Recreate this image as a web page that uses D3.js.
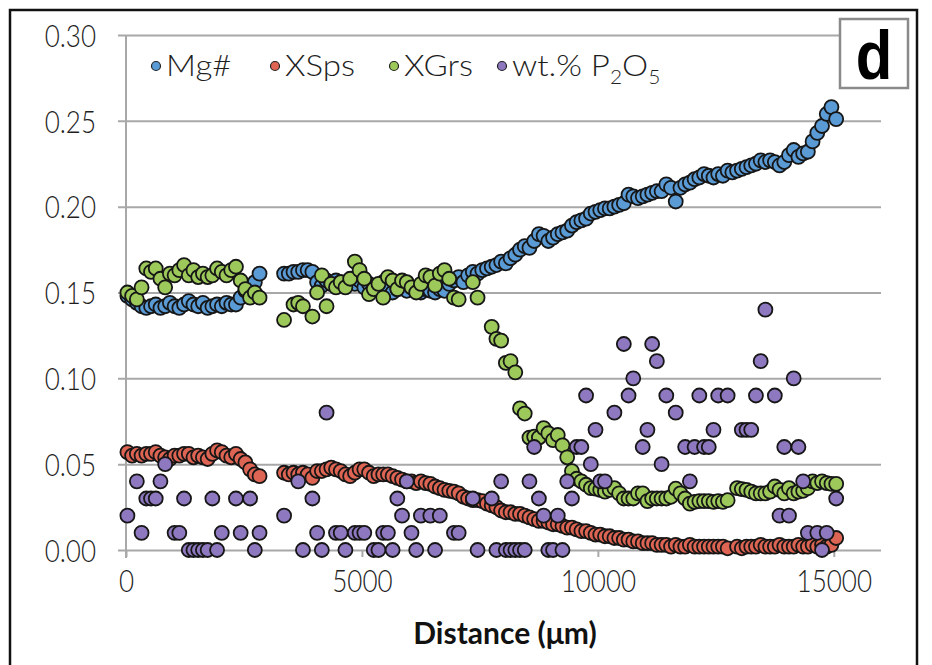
<!DOCTYPE html>
<html><head><meta charset="utf-8">
<script src="https://cdn.jsdelivr.net/npm/d3@7/dist/d3.min.js"></script>
<style>
html,body{margin:0;padding:0;background:#fff;}
svg{display:block;}
</style></head>
<body><svg id="c" width="932" height="665"></svg>
<script>
// distances (µm) of the analysis points
const distance = [30,130,230,330,430,530,630,730,830,930,1030,1130,1230,1330,1430,1530,1630,1730,1830,1930,2030,2130,2230,2330,2430,2530,2630,2730,2830,
3350,3450,3550,3650,3750,3850,3950,4050,4150,4250,4350,4450,4550,4650,4750,4850,4950,5050,5150,5250,5350,5450,5550,5650,5750,5850,5950,6050,6150,6250,6350,6450,6550,6650,6750,6850,6950,7050,7150,7250,7350,7450,7550,7650,7750,7850,7950,8050,8150,8250,8350,8450,8550,8650,8750,8850,8950,9050,9150,9250,9350,9450,9550,9650,9750,9850,9950,10050,10150,10250,10350,10450,10550,10650,10750,10850,10950,11050,11150,11250,11350,11450,11550,11650,11750,11850,11950,12050,12150,12250,12350,12450,12550,12650,12750,12850,12950,13050,13150,13250,13350,13450,13550,13650,13750,13850,13950,14050,14150,14250,14350,14450,14550,14650,14750,14850,14950,15050];

const mgNum = [0.148,0.146,0.144,0.142,0.141,0.142,0.143,0.141,0.142,0.144,0.142,0.141,0.143,0.145,0.143,0.142,0.144,0.141,0.142,0.143,0.142,0.144,0.143,0.143,0.147,0.151,0.153,0.156,0.161,
0.161,0.161,0.162,0.162,0.163,0.163,0.162,0.156,0.154,0.157,
0.155,0.157,0.156,0.154,0.156,0.155,0.157,0.153,0.155,0.152,
0.154,0.156,0.153,0.150,0.152,0.154,0.151,0.153,0.152,0.150,
0.152,0.151,0.150,0.152,0.151,0.155,0.157,0.159,0.156,0.160,
0.162,0.161,0.163,0.164,0.165,0.166,0.168,0.167,0.170,0.172,
0.175,0.177,0.176,0.180,0.184,0.183,0.180,0.182,0.184,0.185,
0.186,0.189,0.191,0.192,0.193,0.196,0.197,0.198,0.199,0.199,
0.200,0.201,0.202,0.207,0.206,0.205,0.206,0.207,0.208,0.209,
0.209,0.213,0.211,0.203,0.211,0.213,0.214,0.216,0.217,0.219,
0.218,0.217,0.219,0.218,0.221,0.220,0.221,0.222,0.223,0.224,
0.225,0.227,0.226,0.227,0.226,0.224,0.226,0.230,0.233,0.229,
0.231,0.232,0.238,0.243,0.247,0.254,0.258,0.251];

const xSps = [0.057,0.055,0.056,0.055,0.056,0.056,0.057,0.055,0.054,0.053,0.055,0.055,0.056,0.056,0.054,0.055,0.054,0.053,0.056,0.058,0.057,0.055,0.054,0.056,0.053,0.051,0.047,0.044,0.043,
0.045,0.044,0.045,0.044,0.045,0.044,0.042,0.046,0.046,0.047,
0.048,0.047,0.046,0.044,0.043,0.045,0.047,0.047,0.045,0.043,
0.044,0.044,0.044,0.043,0.042,0.041,0.040,0.040,0.039,0.040,
0.039,0.0385,0.037,0.036,0.035,0.0345,0.034,0.033,0.031,0.030,
0.029,0.029,0.0285,0.027,0.026,0.025,0.023,0.022,0.022,0.021,
0.021,0.020,0.019,0.018,0.017,0.017,0.016,0.015,0.015,0.014,
0.013,0.013,0.012,0.011,0.011,0.010,0.009,0.009,0.008,0.008,
0.007,0.007,0.006,0.006,0.005,0.005,0.004,0.004,0.004,0.003,
0.003,0.003,0.002,0.003,0.002,0.002,0.003,0.002,0.002,0.002,
0.002,0.002,0.002,0.002,0.001,null,0.002,0.001,0.002,0.002,
0.002,0.003,0.002,0.002,0.002,0.003,0.002,0.002,0.002,0.003,
0.002,0.002,0.003,0.002,0.003,0.002,0.003,0.007];

const xGrs = [0.150,0.148,0.146,0.153,0.164,0.162,0.164,0.158,0.153,0.161,0.160,0.163,0.166,0.160,0.163,0.159,0.161,0.159,0.160,0.164,0.162,0.160,0.163,0.165,0.157,0.152,0.147,0.150,0.147,
0.134,null,0.143,0.144,0.142,null,0.136,0.150,0.160,0.142,
0.155,0.153,0.156,0.153,0.158,0.168,0.163,0.158,0.149,0.152,
0.155,0.147,0.159,0.157,0.152,0.157,0.156,0.153,0.150,0.155,
0.160,0.159,0.154,0.161,0.163,0.158,0.147,0.146,null,null,
0.156,0.147,null,null,0.130,0.123,0.122,0.109,0.110,0.1035,
0.0825,0.0795,0.0655,0.066,0.0655,0.071,0.068,0.064,0.067,0.061,
0.054,0.046,0.0415,0.040,0.038,0.036,0.0357,0.035,0.034,0.035,
0.036,0.033,0.030,0.030,0.030,0.033,0.033,0.0285,0.030,0.030,
0.030,0.030,0.031,0.0357,0.033,0.030,0.027,0.028,0.0285,0.0285,
0.0285,0.028,0.0285,0.028,0.029,null,0.036,0.0355,0.035,0.034,
0.033,0.033,0.033,0.034,0.037,0.035,0.033,0.036,0.033,0.034,
0.0345,0.036,0.040,0.039,0.040,0.039,0.0385,0.0385];

const p2o5 = [0.02,null,0.04,0.01,0.03,0.03,0.03,0.04,0.05,null,0.01,0.01,0.03,0.00,0.00,0.00,0.00,0.00,0.03,0.00,0.01,null,null,0.03,0.01,null,0.03,0.00,0.01,
0.02,null,null,0.04,0.00,null,0.03,0.01,0.00,0.08,
null,0.01,0.01,0.00,null,0.01,0.01,0.01,null,0.00,
0.00,0.01,0.01,0.00,0.03,0.02,0.04,0.01,0.00,0.02,
null,0.02,0.00,0.02,null,null,0.01,0.01,null,null,
0.03,0.00,null,null,0.03,0.00,0.04,0.00,0.00,0.00,
0.00,0.00,0.04,0.06,0.03,0.02,0.00,0.00,0.02,0.00,
0.04,0.03,0.06,0.06,0.09,0.05,0.07,0.04,0.04,null,
0.08,null,0.12,0.09,0.10,null,0.06,0.07,0.12,0.11,
0.05,0.09,null,0.08,null,0.06,0.04,0.06,0.09,0.06,
0.06,0.07,0.09,null,0.09,null,null,0.07,0.07,0.07,
0.09,0.11,0.14,null,0.09,0.02,0.06,0.02,0.10,0.06,
0.04,0.01,null,0.01,0.00,0.01,null,0.03];

const seriesNames = ["Mg#","XSps","XGrs","wt.% P2O5"];
const seriesColors = ["#5b9bd5","#de6553","#9dc95b","#8e78bf"];
const seriesValues = [mgNum, xSps, xGrs, p2o5];
const xTicks = [0,5000,10000,15000];
const yTicks = [0,0.05,0.10,0.15,0.20,0.25,0.30];

const svg = d3.select("#c");
const W = 932, H = 665;
svg.append("rect").attr("width",W).attr("height",H).attr("fill","#fff");

// outer frame
svg.append("rect").attr("x",10).attr("y",10).attr("width",907).attr("height",700)
  .attr("fill","none").attr("stroke","#111").attr("stroke-width",2.5);

const x = d3.scaleLinear().domain([0,16000]).range([126,881]);
const y = d3.scaleLinear().domain([0,0.30]).range([550,35]);

const tickFont = "Lato,'Open Sans',sans-serif";
const SX = 0.84; // horizontal condensing of tick label glyphs
const gridColor = "#a8a8a8";

// horizontal gridlines via y axis
const yAxis = d3.axisLeft(y).tickValues(yTicks).tickFormat(d3.format(".2f"))
  .tickSize(0).tickSizeOuter(0).tickPadding(0);
const gy = svg.append("g").attr("transform",`translate(${x.range()[0]},0)`).call(yAxis);
gy.select(".domain").remove();
gy.selectAll(".tick line").attr("stroke",gridColor).attr("stroke-width",2)
  .attr("x1",-8).attr("x2",x.range()[1]-x.range()[0]);
gy.selectAll(".tick text").attr("x",-30/SX).attr("dy","0.36em")
  .attr("transform",`scale(${SX},1)`)
  .style("font-family",tickFont).style("font-size","31px").style("font-weight","300").attr("fill","#1e1e1e");

// vertical axis line
svg.append("line").attr("x1",x(0)).attr("x2",x(0)).attr("y1",y(0.30)).attr("y2",y(0)+8)
  .attr("stroke",gridColor).attr("stroke-width",2);

// x axis ticks
const xAxis = d3.axisBottom(x).tickValues(xTicks).tickFormat(d3.format("d")).tickSize(7).tickSizeOuter(0).tickPadding(14);
const gx = svg.append("g").attr("transform",`translate(0,${y(0)})`).call(xAxis);
gx.select(".domain").remove();
gx.selectAll(".tick line").attr("stroke",gridColor).attr("stroke-width",2);
gx.selectAll(".tick text").attr("y",42).attr("dy",0).attr("transform",`scale(${SX},1)`)
  .style("font-family",tickFont).style("font-size","31px").style("font-weight","300").attr("fill","#1e1e1e");

// axis title
svg.append("text").attr("x",505).attr("y",644).attr("text-anchor","middle")
  .style("font-family",tickFont).style("font-size","30px").style("font-weight","bold")
  .attr("fill","#111").text("Distance (\u03bcm)");

// points
const layer = svg.append("g");
seriesValues.forEach((vals,si)=>{
  const pts = distance.map((d,i)=>({d, v: vals[i]})).filter(p=>p.v!==null);
  layer.append("g").selectAll("circle").data(pts).join("circle")
    .attr("cx",p=>x(p.d)).attr("cy",p=>y(p.v)).attr("r",7)
    .attr("fill",seriesColors[si]).attr("stroke","#161616").attr("stroke-width",1.8);
});

// legend
const legX = [156,275,394,502];
const leg = svg.append("g");
seriesNames.forEach((n,i)=>{
  leg.append("circle").attr("cx",legX[i]).attr("cy",66).attr("r",4.5)
    .attr("fill",seriesColors[i]).attr("stroke","#222").attr("stroke-width",1.2);
  const t = leg.append("text").attr("transform",`translate(${legX[i]+10},76) scale(1.1,1)`)
    .style("font-family",tickFont).style("font-size","30px").style("font-weight","300").attr("fill","#1e1e1e");
  if(i<3){ t.text(n); }
  else {
    t.append("tspan").text("wt.% P");
    t.append("tspan").text("2").style("font-size","19px").attr("dy",8);
    t.append("tspan").text("O").attr("dy",-8);
    t.append("tspan").text("5").style("font-size","19px").attr("dy",8);
  }
});

// panel label
svg.append("rect").attr("x",840).attr("y",19).attr("width",68).attr("height",69)
  .attr("fill","#fff").attr("stroke","#8a8a8a").attr("stroke-width",2.5);
svg.append("text").attr("x",874).attr("y",79).attr("text-anchor","middle")
  .style("font-family","'Liberation Sans','Arial',sans-serif").style("font-size","68px").style("font-weight","bold")
  .attr("transform","translate(874,0) scale(0.88,1) translate(-874,0)")
  .attr("fill","#000").text("d");
</script></body></html>
